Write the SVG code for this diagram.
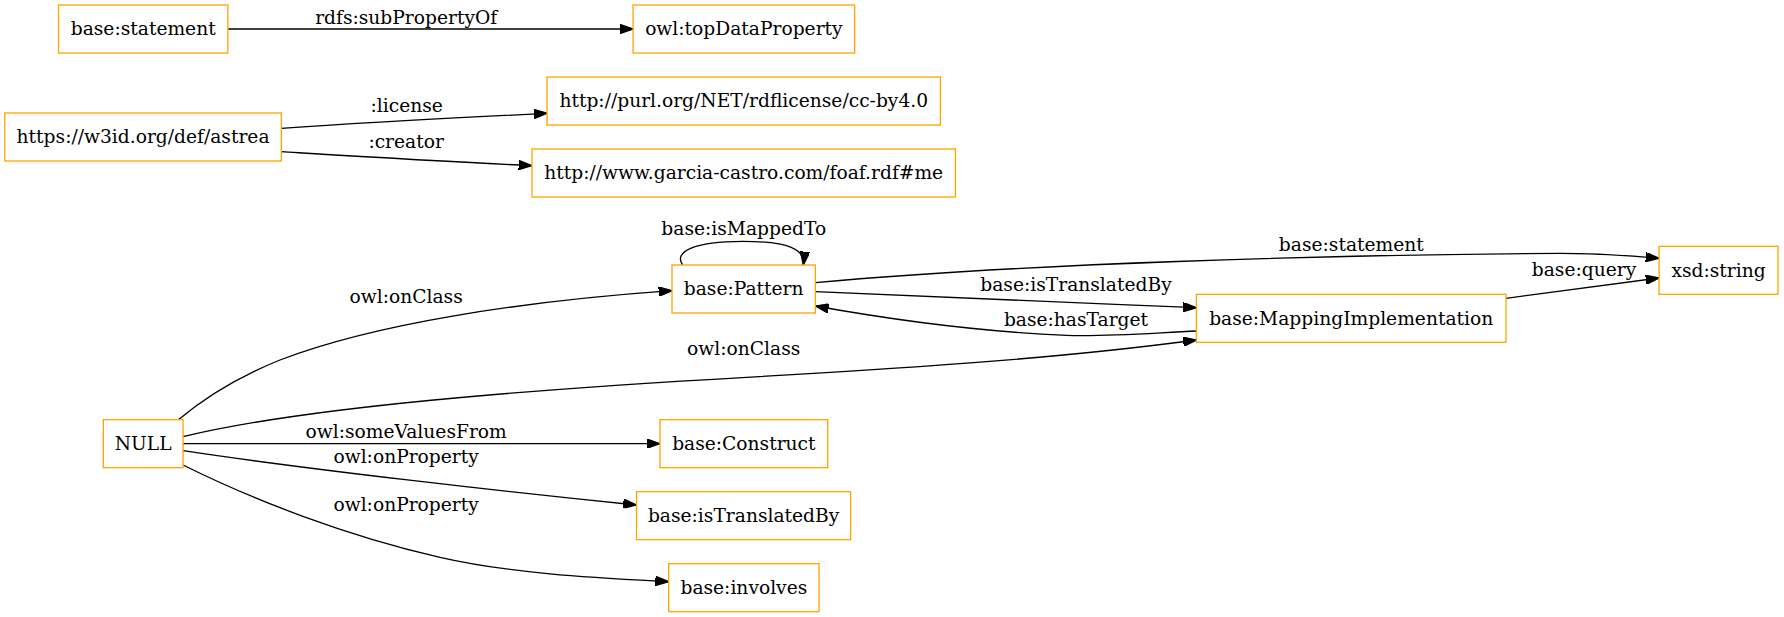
<svg xmlns="http://www.w3.org/2000/svg" width="1784" height="617" viewBox="0 0 1784 617">
<style>
.node rect{fill:#ffffff;stroke:#ffa500;stroke-width:1}
text{font-family:"DejaVu Serif","Liberation Serif",serif;font-size:14px;fill:#000000;text-anchor:middle}
.edge path{fill:none;stroke:#000000;stroke-width:1}
</style>
<defs>
<marker id="arr" viewBox="0 -3.5 10 7" refX="10" refY="0" markerWidth="10" markerHeight="7" markerUnits="userSpaceOnUse" orient="auto">
<path d="M0,-3.5L10,0L0,3.5z" fill="#000000" stroke="#000000" stroke-width="1"/>
</marker>
</defs>
<rect x="0" y="0" width="1784" height="617" fill="#ffffff"/>
<g transform="scale(1.33333)">
<g id="connectors" class="edge">
<path marker-end="url(#arr)" d="M170.9,21.75 L474.8,21.75"/>
<text x="304.6" y="18">rdfs:subPropertyOf</text>
<path marker-end="url(#arr)" d="M211,96.25 C280,91.5 350,88 410.3,85"/>
<text x="305" y="83.8">:license</text>
<path marker-end="url(#arr)" d="M211,113.75 C265,117 330,121 399,124.25"/>
<text x="304.6" y="110.8">:creator</text>
<path marker-end="url(#arr)" d="M512,198.75 C505,189 520,181 557,181 C592,181 604,187 602.5,198.75"/>
<text x="557.8" y="176.25">base:isMappedTo</text>
<path marker-end="url(#arr)" d="M611.5,212 C760,198 1000,191 1170,190 C1200,190 1220,191.5 1244.3,193.75"/>
<text x="1013.5" y="188">base:statement</text>
<path marker-end="url(#arr)" d="M611.5,218.75 C700,222 800,227 897.3,230.75"/>
<text x="807" y="218">base:isTranslatedBy</text>
<path marker-end="url(#arr)" d="M897.3,248.25 C860,250 830,252.5 800,251.5 C740,249 670,240 611.5,229.5"/>
<text x="807" y="244.3">base:hasTarget</text>
<path marker-end="url(#arr)" d="M1129.5,223.75 L1244.3,208.5"/>
<text x="1188" y="207">base:query</text>
<path marker-end="url(#arr)" d="M133.5,315 C155,297 180,282 210,270 C280,243 390,226 504,218"/>
<text x="304.6" y="227">owl:onClass</text>
<path marker-end="url(#arr)" d="M137.3,327.5 C230,305 400,292 560,283 C700,275 800,268 897.3,255"/>
<text x="557.8" y="266">owl:onClass</text>
<path marker-end="url(#arr)" d="M137.3,332.75 L495,332.75"/>
<text x="304.6" y="328.75">owl:someValuesFrom</text>
<path marker-end="url(#arr)" d="M137.3,338 C230,352 380,369 477.4,378.75"/>
<text x="304.6" y="347.5">owl:onProperty</text>
<path marker-end="url(#arr)" d="M137.3,348.75 C190,375 260,402 330,418 C385,430.6 450,433.5 501.5,436.25"/>
<text x="304.6" y="383">owl:onProperty</text>
</g>
<g id="n_statement" class="node"><rect x="43.9" y="3.75" width="127" height="36"/><text x="107.4" y="26.5">base:statement</text></g>
<g id="n_topDataProperty" class="node"><rect x="474.8" y="3.75" width="166.2" height="36"/><text x="557.9" y="26.5">owl:topDataProperty</text></g>
<g id="n_astrea" class="node"><rect x="3.6" y="84.75" width="207.4" height="36"/><text x="107.3" y="107.5">https://w3id.org/def/astrea</text></g>
<g id="n_license" class="node"><rect x="410.3" y="57.75" width="295" height="36"/><text x="557.8" y="80.5">http://purl.org/NET/rdflicense/cc-by4.0</text></g>
<g id="n_creator" class="node"><rect x="399" y="111.75" width="317.6" height="36"/><text x="557.8" y="134.5">http://www.garcia-castro.com/foaf.rdf#me</text></g>
<g id="n_Pattern" class="node"><rect x="504" y="198.75" width="107.5" height="36"/><text x="557.75" y="221.5">base:Pattern</text></g>
<g id="n_xsdstring" class="node"><rect x="1244.3" y="184.75" width="89.2" height="36"/><text x="1288.9" y="207.5">xsd:string</text></g>
<g id="n_MappingImplementation" class="node"><rect x="897.3" y="220.75" width="232.2" height="36"/><text x="1013.4" y="243.5">base:MappingImplementation</text></g>
<g id="n_NULL" class="node"><rect x="77.5" y="314.75" width="59.8" height="36"/><text x="107.4" y="337.5">NULL</text></g>
<g id="n_Construct" class="node"><rect x="495" y="314.75" width="125.8" height="36"/><text x="557.9" y="337.5">base:Construct</text></g>
<g id="n_isTranslatedBy" class="node"><rect x="477.4" y="368.75" width="160.6" height="36"/><text x="557.7" y="391.5">base:isTranslatedBy</text></g>
<g id="n_involves" class="node"><rect x="501.5" y="422.75" width="112.8" height="36"/><text x="557.9" y="445.5">base:involves</text></g>
</g>
</svg>
